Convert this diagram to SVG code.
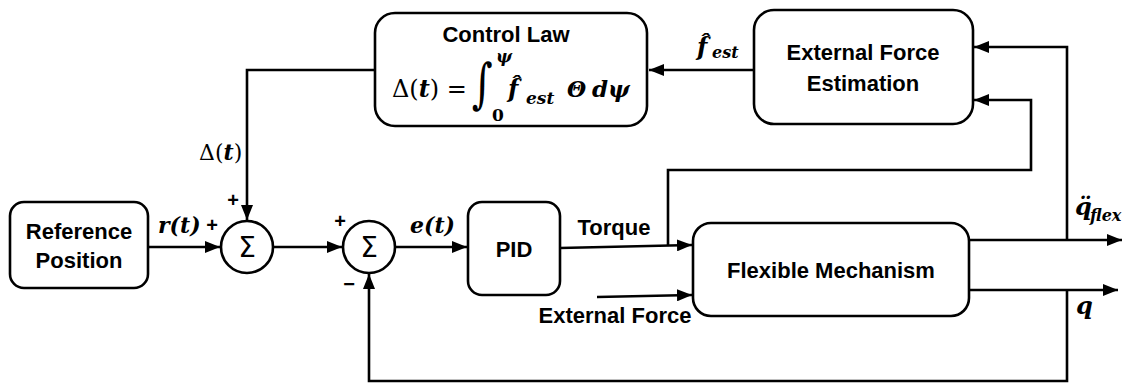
<svg xmlns="http://www.w3.org/2000/svg" width="1137" height="383" viewBox="0 0 1137 383">
<defs>
<marker id="ah" markerUnits="userSpaceOnUse" markerWidth="15" markerHeight="12" refX="15" refY="6" orient="auto">
<path d="M0,0 L15,6 L0,12 z" fill="#000"/>
</marker>
<style>
.box{fill:#fff;stroke:#000;stroke-width:2.6}
.lbl{font-family:"Liberation Sans",Arial,sans-serif;font-weight:bold;font-size:22px;fill:#000;text-anchor:middle}
.m{font-family:"DejaVu Serif","Liberation Serif",serif;fill:#000}
.bi{font-weight:bold;font-style:italic}
.c{fill:none;stroke:#000;stroke-width:2.6}
.sg{font-family:"Liberation Sans",Arial,sans-serif;font-weight:bold;font-size:20px;fill:#000;text-anchor:middle}
.sig{font-family:"DejaVu Sans",sans-serif;font-size:28px;fill:#000;text-anchor:middle}
</style>
</defs>
<rect width="1137" height="383" fill="#fff"/>
<g id="connectors">
<path class="c" d="M754,70 L649,70" marker-end="url(#ah)"/>
<path class="c" d="M375,70 L247,70 L247,220" marker-end="url(#ah)"/>
<path class="c" d="M148,247 L220,247" marker-end="url(#ah)"/>
<path class="c" d="M273,247 L342,247" marker-end="url(#ah)"/>
<path class="c" d="M395,247 L467,247" marker-end="url(#ah)"/>
<path class="c" d="M560,248 L692,245" marker-end="url(#ah)"/>
<path class="c" d="M668,246 L668,170 L1031,170 L1031,100 L974,100" marker-end="url(#ah)"/>
<path class="c" d="M597,297 L692,295" marker-end="url(#ah)"/>
<path class="c" d="M969,240 L1122,240" marker-end="url(#ah)"/>
<path class="c" d="M1067,240 L1067,47 L974,47" marker-end="url(#ah)"/>
<path class="c" d="M969,290 L1118,290" marker-end="url(#ah)"/>
<path class="c" d="M1067,290 L1067,381 L369,381 L369,274" marker-end="url(#ah)"/>
</g>
<g id="control-law">
<rect class="box" x="375" y="13" width="272" height="113" rx="20"/>
<text class="lbl" x="506" y="42" font-size="20">Control Law</text>
<text class="m" x="392" y="97" font-size="24">Δ(<tspan class="bi">t</tspan>) =</text>
<text class="m" font-size="40" transform="translate(472,102) scale(1,1.35)">∫</text>
<text class="m" x="492" y="121" font-size="17" font-weight="bold">0</text>
<text class="m bi" x="496" y="62" font-size="17">ψ</text>
<text class="m bi" x="508" y="97" font-size="24">f̂</text>
<text class="m bi" x="526" y="104" font-size="17">est</text>
<text class="m bi" x="567" y="97" font-size="22">Θ</text>
<text class="m bi" x="592" y="97" font-size="23">dψ</text>
</g>
<g id="external-force-estimation">
<rect class="box" x="754" y="10" width="219" height="114" rx="20"/>
<text class="lbl" x="863" y="60">External Force</text>
<text class="lbl" x="863" y="91">Estimation</text>
</g>
<g id="reference-position">
<rect class="box" x="10" y="202" width="138" height="86" rx="14"/>
<text class="lbl" x="79" y="239">Reference</text>
<text class="lbl" x="79" y="268">Position</text>
</g>
<g id="sum1">
<circle class="box" cx="247" cy="247" r="26"/>
<text class="sig" x="247" y="257">Σ</text>
</g>
<g id="sum2">
<circle class="box" cx="369" cy="247" r="26"/>
<text class="sig" x="369" y="257">Σ</text>
</g>
<g id="pid">
<rect class="box" x="468" y="202" width="92" height="93" rx="14"/>
<text class="lbl" x="514" y="257">PID</text>
</g>
<g id="flexible-mechanism">
<rect class="box" x="693" y="223" width="276" height="93" rx="18"/>
<text class="lbl" x="831" y="278">Flexible Mechanism</text>
</g>
<g id="labels">
<text class="m" x="199" y="160" font-size="22">Δ(<tspan class="bi">t</tspan>)</text>
<text class="sg" x="233" y="207">+</text>
<text class="m bi" x="158" y="233" font-size="22">r(t)</text>
<text class="sg" x="212" y="232">+</text>
<text class="sg" x="340" y="228">+</text>
<text class="sg" x="349" y="291">−</text>
<text class="m bi" x="410" y="233" font-size="22">e(t)</text>
<text class="lbl" x="614" y="235">Torque</text>
<text class="lbl" x="615" y="323">External Force</text>
<text class="m bi" x="697" y="55" font-size="24">f̂</text>
<text class="m bi" x="712" y="58" font-size="16">est</text>
<text class="m bi" x="1075" y="215" font-size="24">q̈</text>
<text class="m bi" x="1090" y="221" font-size="16">flex</text>
<text class="m bi" x="1076" y="314" font-size="24">q</text>
</g>
</svg>
